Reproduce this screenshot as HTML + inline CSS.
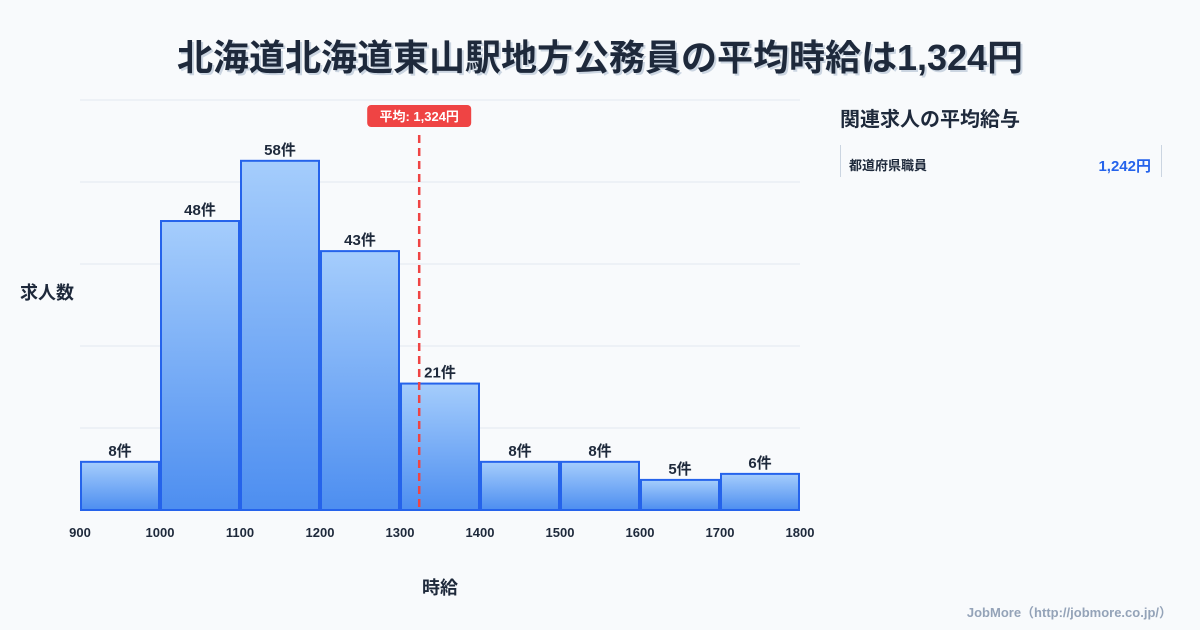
<!DOCTYPE html>
<html><head><meta charset="utf-8"><style>
body{margin:0;width:1200px;height:630px;background:#f8fafc;font-family:"Liberation Sans","Noto Sans CJK JP",sans-serif;overflow:hidden;position:relative;color:#1e293b}
.title{position:absolute;top:29px;left:0;width:1200px;text-align:center;font-size:36px;font-weight:bold;color:#1e293b;text-shadow:2px 2px 0 #cbd5e1}
.side-h{position:absolute;left:840px;top:103px;font-size:20px;font-weight:bold}
.card{position:absolute;left:840px;top:145px;width:320px;height:32px;border-left:1px solid #cbd5e1;border-right:1px solid #cbd5e1}
.card .n{position:absolute;left:8px;top:10px;font-size:13px;font-weight:bold}
.card .v{position:absolute;right:10px;top:10px;font-size:15px;font-weight:bold;color:#2563eb}
.foot{position:absolute;right:28px;top:602px;font-size:13px;font-weight:bold;color:#94a3b8}
</style></head><body>
<div class="title">北海道北海道東山駅地方公務員の平均時給は1,324円</div>
<div class="side-h">関連求人の平均給与</div>
<div class="card"><span class="n">都道府県職員</span><span class="v">1,242円</span></div>
<div class="foot">JobMore（http://jobmore.co.jp/）</div>
<svg id="chart" width="1200" height="630" style="position:absolute;left:0;top:0">
<defs><linearGradient id="g" x1="0" y1="0" x2="0" y2="1"><stop offset="0" stop-color="#a5cdfc"/><stop offset="1" stop-color="#4d8ef0"/></linearGradient></defs>
</svg>
<script>
const binStarts=[900,1000,1100,1200,1300,1400,1500,1600,1700];
const counts=[8,48,58,43,21,8,8,5,6];
const xTicks=[900,1000,1100,1200,1300,1400,1500,1600,1700,1800];
const avgWage=1324;
const svg=document.getElementById('chart');
const NS='http://www.w3.org/2000/svg';
const x=v=>80+(v-900)*0.8;
const yMax=68.1;
const y=v=>510-v/yMax*410;
function mk(t,a){const e=document.createElementNS(NS,t);for(const k in a)e.setAttribute(k,a[k]);svg.appendChild(e);return e;}
for(let i=0;i<5;i++){const g=mk('line',{x1:80,x2:800,y1:100+i*82,y2:100+i*82,stroke:'#e2e8f0','stroke-width':1});

}
binStarts.forEach((b,i)=>{
 const r=mk('rect',{x:x(b)+1,y:y(counts[i]),width:x(b+100)-x(b)-2,height:510-y(counts[i]),fill:'url(#g)',stroke:'#2563eb','stroke-width':2});
 
 
 const t=mk('text',{x:x(b+50),y:y(counts[i])-6,'text-anchor':'middle','font-size':15,'font-weight':'bold',fill:'#1e293b'});
 t.textContent=counts[i]+'件';
 
 
});
xTicks.forEach(v=>{const t=mk('text',{x:x(v),y:537,'text-anchor':'middle','font-size':13,'font-weight':'bold',fill:'#1e293b'});t.textContent=v;

});
const ax=x(avgWage);
const dl=mk('line',{x1:ax,x2:ax,y1:135,y2:510,stroke:'#ef4444','stroke-width':2.5,'stroke-dasharray':'8,5'});


const bg=mk('rect',{x:ax-52,y:105,width:104,height:22,rx:4,fill:'#ef4444'});


const at=mk('text',{x:ax,y:121,'text-anchor':'middle','font-size':13,'font-weight':'bold',fill:'#fff'});
at.textContent='平均: 1,324円';


const yt=mk('text',{x:20,y:299,'font-size':18,'font-weight':'bold',fill:'#1e293b'});yt.textContent='求人数';


const xt=mk('text',{x:440,y:594,'text-anchor':'middle','font-size':18,'font-weight':'bold',fill:'#1e293b'});xt.textContent='時給';


</script>
</body></html>
